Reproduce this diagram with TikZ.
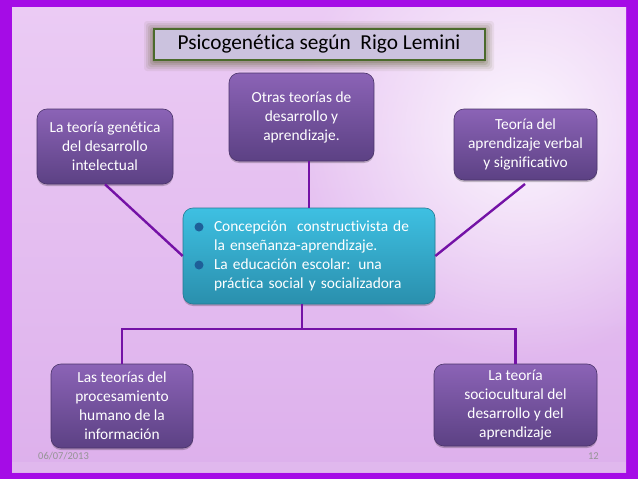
\documentclass[tikz,border=0pt]{standalone}
\usepackage{fontspec}
\setmainfont[Ligatures=NoCommon]{Carlito}
\usetikzlibrary{calc,fadings}
\tikzfading[name=softglow,inner color=transparent!0,outer color=transparent!100]
\definecolor{framec}{HTML}{A50CE6}
\definecolor{wirec}{HTML}{7412A6}
\definecolor{pboxtop}{HTML}{8B63B6}
\definecolor{pboxdark}{HTML}{5C4184}
\definecolor{ctop}{HTML}{3EC0E2}
\definecolor{cbot}{HTML}{2A8FAD}
\definecolor{bulletc}{HTML}{1E5F98}
\definecolor{titlef}{HTML}{CBC2DE}
\definecolor{titleb}{HTML}{4B6A2C}
\definecolor{glowc}{HTML}{5E5E30}
\definecolor{bgedge}{HTML}{DDB0EC}
\definecolor{bgtop}{HTML}{EBCBF4}
\definecolor{bgglow}{HTML}{FCF7FE}
\tikzset{
  x=1pt,y=-1pt,
  theorybox/.style={rounded corners=10pt,draw=pboxdark!80!black,line width=.6pt,align=center,text=white,inner sep=0pt,
    font=\fontsize{15.4}{19}\selectfont,top color=pboxtop,bottom color=pboxdark,
    preaction={draw=none,fill=black,fill opacity=.22,transform canvas={yshift=-2pt}}},
  corebox/.style={theorybox,draw=cbot!85!black,top color=ctop,bottom color=cbot},
  wire/.style={draw=wirec,line width=2.4pt},
  footer/.style={text=black!42,font=\fontsize{10.5}{12}\selectfont,inner sep=0pt},
  bulletdot/.style={circle,fill=bulletc,draw=none,minimum size=9pt,inner sep=0pt}
}
\begin{document}
\begin{tikzpicture}
\useasboundingbox (0,0) rectangle (638,479);
% frame and background
\fill[framec] (0,0) rectangle (638,479);
\begin{scope}
  \clip (12,7) rectangle (626,472);
  \shade[top color=bgtop,bottom color=bgedge] (12,7) rectangle (626,472);
  \fill[bgglow,path fading=softglow] (520,130) circle[radius=230pt];
  \fill[white,opacity=.10] (12,462) rectangle (626,472);
\end{scope}
% title glow
\foreach \g/\o in {9/.08,7/.10,5/.12,3/.16,1/.2}
  \fill[glowc,opacity=\o,rounded corners=3pt] (153-\g,28-\g+2) rectangle (485+\g,60+\g+2);
\node[theorybox,minimum width=145pt,minimum height=88pt] (otras) at (301.5,117) {Otras teorías de\\desarrollo y\\aprendizaje.};
\node[theorybox,minimum width=136pt,minimum height=75pt] (genetica) at (105,146.5) {La teoría genética\\del desarrollo\\intelectual};
\node[theorybox,minimum width=143pt,minimum height=71pt] (verbal) at (525.5,144.5) {Teoría del\\aprendizaje verbal\\y significativo};
\node[theorybox,minimum width=142pt,minimum height=84pt] (humano) at (122,406) {Las teorías del\\procesamiento\\humano de la\\información};
\node[theorybox,minimum width=163pt,minimum height=82pt] (socio) at (515.5,405) {La teoría\\sociocultural del\\desarrollo y del\\aprendizaje};
\node[corebox,minimum width=252pt,minimum height=96pt,align=left,text width=190pt] (core) at (309,256)
  {\makebox[190pt][l]{Concepción\ \ constructivista de}\\la enseñanza-aprendizaje.\\La educación escolar: una\\práctica social y socializadora};
\node[bulletdot] (b1) at (199,227) {};
\node[bulletdot] (b2) at (199,265) {};
\node[draw=titleb,line width=2pt,fill=titlef,minimum width=331pt,minimum height=31pt,inner sep=0pt,
      font=\fontsize{21.3}{25}\selectfont,text=black] (title) at (319,44) {Psicogenética según\ \ Rigo Lemini};
% connectors
\coordinate (verbalfree) at (525,184);
\draw[wire] (genetica.south) -- (core.west);
\draw[wire] (verbalfree) -- (core.east);
\draw[wire] ([xshift=7.5pt]otras.south) -- ([xshift=7.5pt]otras.south |- core.north);
\coordinate (bus) at (302,329);
\draw[wire] (core.south -| bus) -- (bus);
\draw[wire,line join=miter] (humano.north) -- (humano.north |- bus) -- (socio.north |- bus) -- (socio.north);
\node[footer,anchor=west] (date) at (38,456.5) {06/07/2013};
\node[footer,anchor=east] (page) at (599,456.5) {12};
\end{tikzpicture}
\end{document}
